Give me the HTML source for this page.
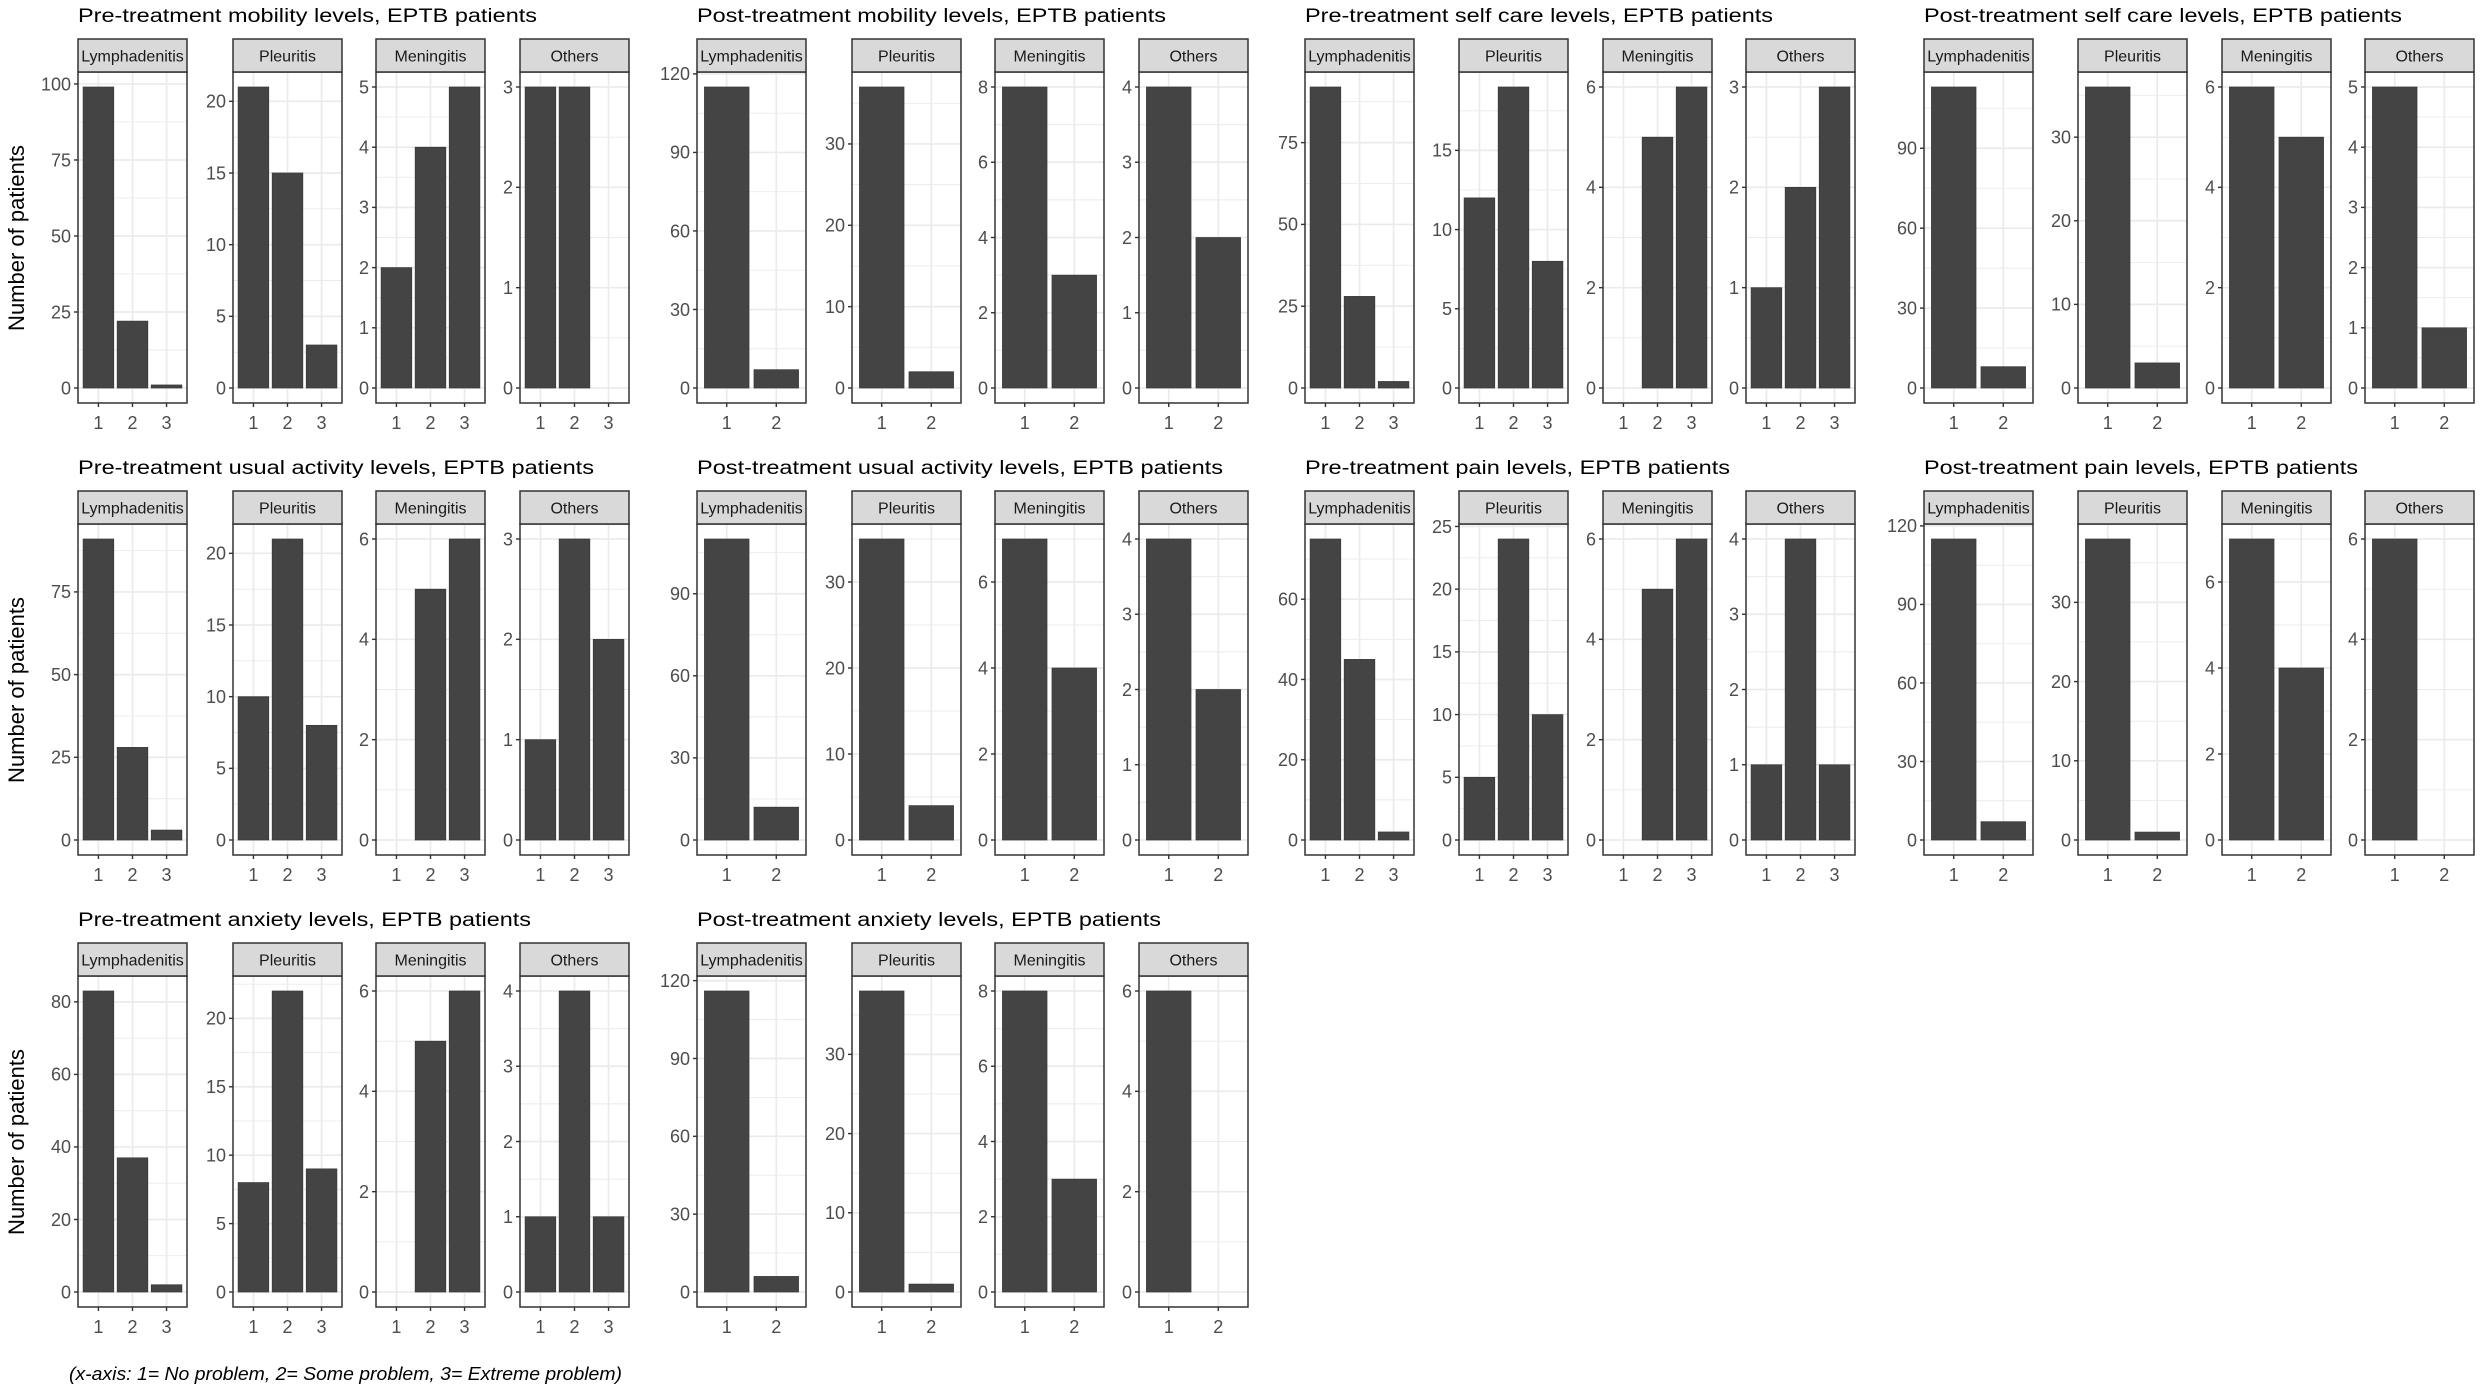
<!DOCTYPE html>
<html><head><meta charset="utf-8">
<style>
html,body{margin:0;padding:0;background:#fff;}
svg{display:block;font-family:"Liberation Sans",Arial,sans-serif;}
.ttl{font-size:19px;fill:#000;}
.st{font-size:16px;fill:#1a1a1a;text-anchor:middle;}
.yt{font-size:18px;fill:#4d4d4d;text-anchor:end;}
.xt{font-size:18px;fill:#4d4d4d;text-anchor:middle;}
.yl{font-size:22px;fill:#000;text-anchor:middle;}
.ft{font-size:18px;font-style:italic;fill:#000;}
</style></head><body>
<svg id="s" width="2481" height="1386" viewBox="0 0 2481 1386" xmlns="http://www.w3.org/2000/svg">
<rect width="2481" height="1386" fill="#fff"/>
<text class="yl" transform="translate(24,238) rotate(-90)">Number of patients</text>
<text class="yl" transform="translate(24,690) rotate(-90)">Number of patients</text>
<text class="yl" transform="translate(24,1142) rotate(-90)">Number of patients</text>
<text class="ft" x="69" y="1380" textLength="553" lengthAdjust="spacingAndGlyphs">(x-axis: 1= No problem, 2= Some problem, 3= Extreme problem)</text>

<g class="plot"><text class="ttl" textLength="459" lengthAdjust="spacingAndGlyphs">Pre-treatment mobility levels, EPTB patients</text>
<g class="pan"><text class="st">Lymphadenitis</text><text class="yt">0</text><text class="yt">25</text><text class="yt">50</text><text class="yt">75</text><text class="yt">100</text><text class="xt">1</text><text class="xt">2</text><text class="xt">3</text></g>
<g class="pan"><text class="st">Pleuritis</text><text class="yt">0</text><text class="yt">5</text><text class="yt">10</text><text class="yt">15</text><text class="yt">20</text><text class="xt">1</text><text class="xt">2</text><text class="xt">3</text></g>
<g class="pan"><text class="st">Meningitis</text><text class="yt">0</text><text class="yt">1</text><text class="yt">2</text><text class="yt">3</text><text class="yt">4</text><text class="yt">5</text><text class="xt">1</text><text class="xt">2</text><text class="xt">3</text></g>
<g class="pan"><text class="st">Others</text><text class="yt">0</text><text class="yt">1</text><text class="yt">2</text><text class="yt">3</text><text class="xt">1</text><text class="xt">2</text><text class="xt">3</text></g>
</g>

<g class="plot"><text class="ttl" textLength="469" lengthAdjust="spacingAndGlyphs">Post-treatment mobility levels, EPTB patients</text>
<g class="pan"><text class="st">Lymphadenitis</text><text class="yt">0</text><text class="yt">30</text><text class="yt">60</text><text class="yt">90</text><text class="yt">120</text><text class="xt">1</text><text class="xt">2</text></g>
<g class="pan"><text class="st">Pleuritis</text><text class="yt">0</text><text class="yt">10</text><text class="yt">20</text><text class="yt">30</text><text class="xt">1</text><text class="xt">2</text></g>
<g class="pan"><text class="st">Meningitis</text><text class="yt">0</text><text class="yt">2</text><text class="yt">4</text><text class="yt">6</text><text class="yt">8</text><text class="xt">1</text><text class="xt">2</text></g>
<g class="pan"><text class="st">Others</text><text class="yt">0</text><text class="yt">1</text><text class="yt">2</text><text class="yt">3</text><text class="yt">4</text><text class="xt">1</text><text class="xt">2</text></g>
</g>

<g class="plot"><text class="ttl" textLength="468" lengthAdjust="spacingAndGlyphs">Pre-treatment self care levels, EPTB patients</text>
<g class="pan"><text class="st">Lymphadenitis</text><text class="yt">0</text><text class="yt">25</text><text class="yt">50</text><text class="yt">75</text><text class="xt">1</text><text class="xt">2</text><text class="xt">3</text></g>
<g class="pan"><text class="st">Pleuritis</text><text class="yt">0</text><text class="yt">5</text><text class="yt">10</text><text class="yt">15</text><text class="xt">1</text><text class="xt">2</text><text class="xt">3</text></g>
<g class="pan"><text class="st">Meningitis</text><text class="yt">0</text><text class="yt">2</text><text class="yt">4</text><text class="yt">6</text><text class="xt">1</text><text class="xt">2</text><text class="xt">3</text></g>
<g class="pan"><text class="st">Others</text><text class="yt">0</text><text class="yt">1</text><text class="yt">2</text><text class="yt">3</text><text class="xt">1</text><text class="xt">2</text><text class="xt">3</text></g>
</g>

<g class="plot"><text class="ttl" textLength="478" lengthAdjust="spacingAndGlyphs">Post-treatment self care levels, EPTB patients</text>
<g class="pan"><text class="st">Lymphadenitis</text><text class="yt">0</text><text class="yt">30</text><text class="yt">60</text><text class="yt">90</text><text class="xt">1</text><text class="xt">2</text></g>
<g class="pan"><text class="st">Pleuritis</text><text class="yt">0</text><text class="yt">10</text><text class="yt">20</text><text class="yt">30</text><text class="xt">1</text><text class="xt">2</text></g>
<g class="pan"><text class="st">Meningitis</text><text class="yt">0</text><text class="yt">2</text><text class="yt">4</text><text class="yt">6</text><text class="xt">1</text><text class="xt">2</text></g>
<g class="pan"><text class="st">Others</text><text class="yt">0</text><text class="yt">1</text><text class="yt">2</text><text class="yt">3</text><text class="yt">4</text><text class="yt">5</text><text class="xt">1</text><text class="xt">2</text></g>
</g>

<g class="plot"><text class="ttl" textLength="516" lengthAdjust="spacingAndGlyphs">Pre-treatment usual activity levels, EPTB patients</text>
<g class="pan"><text class="st">Lymphadenitis</text><text class="yt">0</text><text class="yt">25</text><text class="yt">50</text><text class="yt">75</text><text class="xt">1</text><text class="xt">2</text><text class="xt">3</text></g>
<g class="pan"><text class="st">Pleuritis</text><text class="yt">0</text><text class="yt">5</text><text class="yt">10</text><text class="yt">15</text><text class="yt">20</text><text class="xt">1</text><text class="xt">2</text><text class="xt">3</text></g>
<g class="pan"><text class="st">Meningitis</text><text class="yt">0</text><text class="yt">2</text><text class="yt">4</text><text class="yt">6</text><text class="xt">1</text><text class="xt">2</text><text class="xt">3</text></g>
<g class="pan"><text class="st">Others</text><text class="yt">0</text><text class="yt">1</text><text class="yt">2</text><text class="yt">3</text><text class="xt">1</text><text class="xt">2</text><text class="xt">3</text></g>
</g>

<g class="plot"><text class="ttl" textLength="526" lengthAdjust="spacingAndGlyphs">Post-treatment usual activity levels, EPTB patients</text>
<g class="pan"><text class="st">Lymphadenitis</text><text class="yt">0</text><text class="yt">30</text><text class="yt">60</text><text class="yt">90</text><text class="xt">1</text><text class="xt">2</text></g>
<g class="pan"><text class="st">Pleuritis</text><text class="yt">0</text><text class="yt">10</text><text class="yt">20</text><text class="yt">30</text><text class="xt">1</text><text class="xt">2</text></g>
<g class="pan"><text class="st">Meningitis</text><text class="yt">0</text><text class="yt">2</text><text class="yt">4</text><text class="yt">6</text><text class="xt">1</text><text class="xt">2</text></g>
<g class="pan"><text class="st">Others</text><text class="yt">0</text><text class="yt">1</text><text class="yt">2</text><text class="yt">3</text><text class="yt">4</text><text class="xt">1</text><text class="xt">2</text></g>
</g>

<g class="plot"><text class="ttl" textLength="425" lengthAdjust="spacingAndGlyphs">Pre-treatment pain levels, EPTB patients</text>
<g class="pan"><text class="st">Lymphadenitis</text><text class="yt">0</text><text class="yt">20</text><text class="yt">40</text><text class="yt">60</text><text class="xt">1</text><text class="xt">2</text><text class="xt">3</text></g>
<g class="pan"><text class="st">Pleuritis</text><text class="yt">0</text><text class="yt">5</text><text class="yt">10</text><text class="yt">15</text><text class="yt">20</text><text class="yt">25</text><text class="xt">1</text><text class="xt">2</text><text class="xt">3</text></g>
<g class="pan"><text class="st">Meningitis</text><text class="yt">0</text><text class="yt">2</text><text class="yt">4</text><text class="yt">6</text><text class="xt">1</text><text class="xt">2</text><text class="xt">3</text></g>
<g class="pan"><text class="st">Others</text><text class="yt">0</text><text class="yt">1</text><text class="yt">2</text><text class="yt">3</text><text class="yt">4</text><text class="xt">1</text><text class="xt">2</text><text class="xt">3</text></g>
</g>

<g class="plot"><text class="ttl" textLength="434" lengthAdjust="spacingAndGlyphs">Post-treatment pain levels, EPTB patients</text>
<g class="pan"><text class="st">Lymphadenitis</text><text class="yt">0</text><text class="yt">30</text><text class="yt">60</text><text class="yt">90</text><text class="yt">120</text><text class="xt">1</text><text class="xt">2</text></g>
<g class="pan"><text class="st">Pleuritis</text><text class="yt">0</text><text class="yt">10</text><text class="yt">20</text><text class="yt">30</text><text class="xt">1</text><text class="xt">2</text></g>
<g class="pan"><text class="st">Meningitis</text><text class="yt">0</text><text class="yt">2</text><text class="yt">4</text><text class="yt">6</text><text class="xt">1</text><text class="xt">2</text></g>
<g class="pan"><text class="st">Others</text><text class="yt">0</text><text class="yt">2</text><text class="yt">4</text><text class="yt">6</text><text class="xt">1</text><text class="xt">2</text></g>
</g>

<g class="plot"><text class="ttl" textLength="453" lengthAdjust="spacingAndGlyphs">Pre-treatment anxiety levels, EPTB patients</text>
<g class="pan"><text class="st">Lymphadenitis</text><text class="yt">0</text><text class="yt">20</text><text class="yt">40</text><text class="yt">60</text><text class="yt">80</text><text class="xt">1</text><text class="xt">2</text><text class="xt">3</text></g>
<g class="pan"><text class="st">Pleuritis</text><text class="yt">0</text><text class="yt">5</text><text class="yt">10</text><text class="yt">15</text><text class="yt">20</text><text class="xt">1</text><text class="xt">2</text><text class="xt">3</text></g>
<g class="pan"><text class="st">Meningitis</text><text class="yt">0</text><text class="yt">2</text><text class="yt">4</text><text class="yt">6</text><text class="xt">1</text><text class="xt">2</text><text class="xt">3</text></g>
<g class="pan"><text class="st">Others</text><text class="yt">0</text><text class="yt">1</text><text class="yt">2</text><text class="yt">3</text><text class="yt">4</text><text class="xt">1</text><text class="xt">2</text><text class="xt">3</text></g>
</g>

<g class="plot"><text class="ttl" textLength="464" lengthAdjust="spacingAndGlyphs">Post-treatment anxiety levels, EPTB patients</text>
<g class="pan"><text class="st">Lymphadenitis</text><text class="yt">0</text><text class="yt">30</text><text class="yt">60</text><text class="yt">90</text><text class="yt">120</text><text class="xt">1</text><text class="xt">2</text></g>
<g class="pan"><text class="st">Pleuritis</text><text class="yt">0</text><text class="yt">10</text><text class="yt">20</text><text class="yt">30</text><text class="xt">1</text><text class="xt">2</text></g>
<g class="pan"><text class="st">Meningitis</text><text class="yt">0</text><text class="yt">2</text><text class="yt">4</text><text class="yt">6</text><text class="yt">8</text><text class="xt">1</text><text class="xt">2</text></g>
<g class="pan"><text class="st">Others</text><text class="yt">0</text><text class="yt">2</text><text class="yt">4</text><text class="yt">6</text><text class="xt">1</text><text class="xt">2</text></g>
</g>
</svg>
<script>
(function(){
var Ls=[[78,233,376,520],[697,852,995,1139],[1305,1459,1603,1746],[1924,2078,2222,2365]];
var D=[
[0,0,3,[[99,22,1],[21,15,3],[2,4,5],[3,3,0]]],
[1,0,2,[[115,7],[37,2],[8,3],[4,2]]],
[2,0,3,[[92,28,2],[12,19,8],[0,5,6],[1,2,3]]],
[3,0,2,[[113,8],[36,3],[6,5],[5,1]]],
[0,1,3,[[91,28,3],[10,21,8],[0,5,6],[1,3,2]]],
[1,1,2,[[110,12],[35,4],[7,4],[4,2]]],
[2,1,3,[[75,45,2],[5,24,10],[0,5,6],[1,4,1]]],
[3,1,2,[[115,7],[38,1],[7,4],[6,0]]],
[0,2,3,[[83,37,2],[8,22,9],[0,5,6],[1,4,1]]],
[1,2,2,[[116,6],[38,1],[8,3],[6,0]]]
];
var NS='http://www.w3.org/2000/svg';
function el(t,a,p){var e=document.createElementNS(NS,t);for(var k in a)e.setAttribute(k,a[k]);p.appendChild(e);return e;}
var plots=document.querySelectorAll('g.plot');
for(var k=0;k<plots.length;k++){
 var pg=plots[k],d=D[k],c=d[0],r=d[1],n=d[2],V=d[3];
 pg.setAttribute('transform','translate(0,'+(r*452)+')');
 var t=pg.querySelector('.ttl');t.setAttribute('x',Ls[c][0]);t.setAttribute('y',22);
 var pans=pg.querySelectorAll('g.pan');
 for(var j=0;j<pans.length;j++){
  var g=pans[j],L=Ls[c][j],W=109,vals=V[j],mx=Math.max.apply(null,vals);
  var sy=function(v){return 388-301*v/mx;};
  var u=W/(n+0.2);var cx=function(i){return L+(i-0.4)*u;};
  var sh=document.createElementNS(NS,'g');g.insertBefore(sh,g.firstChild);
  el('rect',{x:L,y:72,width:W,height:331,fill:'#fff'},sh);
  var yts=g.querySelectorAll('.yt'),br=[];
  for(var q=0;q<yts.length;q++)br.push(+yts[q].textContent);
  var s=br[1]-br[0];
  for(var m=s/2;m<=mx*1.05;m+=s){var y=sy(m);el('line',{x1:L,x2:L+W,y1:y,y2:y,stroke:'#ebebeb','stroke-width':0.9},sh);}
  for(var q=0;q<br.length;q++){var y=sy(br[q]);
   el('line',{x1:L,x2:L+W,y1:y,y2:y,stroke:'#ebebeb','stroke-width':1.7},sh);
   el('line',{x1:L-4,x2:L,y1:y,y2:y,stroke:'#333','stroke-width':1.4},sh);
   yts[q].setAttribute('x',L-7);yts[q].setAttribute('y',y+6.3);}
  for(var i=1;i<=n;i++){var x=cx(i);
   el('line',{x1:x,x2:x,y1:72,y2:403,stroke:'#ebebeb','stroke-width':1.7},sh);
   el('line',{x1:x,x2:x,y1:403,y2:407,stroke:'#333','stroke-width':1.4},sh);}
  for(var i=0;i<vals.length;i++){var v=vals[i];if(v>0){
   el('rect',{x:cx(i+1)-0.45*u,y:sy(v),width:0.9*u,height:sy(0)-sy(v),fill:'#444444',stroke:'#383838','stroke-width':0.7},sh);}}
  el('rect',{x:L,y:72,width:W,height:331,fill:'none',stroke:'#333','stroke-width':1.5},sh);
  el('rect',{x:L,y:39,width:W,height:33,fill:'#d9d9d9',stroke:'#333','stroke-width':1.5},sh);
  var st=g.querySelector('.st');st.setAttribute('x',L+W/2);st.setAttribute('y',61.5);
  var xts=g.querySelectorAll('.xt');
  for(var q=0;q<xts.length;q++){xts[q].setAttribute('x',cx(+xts[q].textContent));xts[q].setAttribute('y',429);}
 }
}
})();
</script>
</body></html>
